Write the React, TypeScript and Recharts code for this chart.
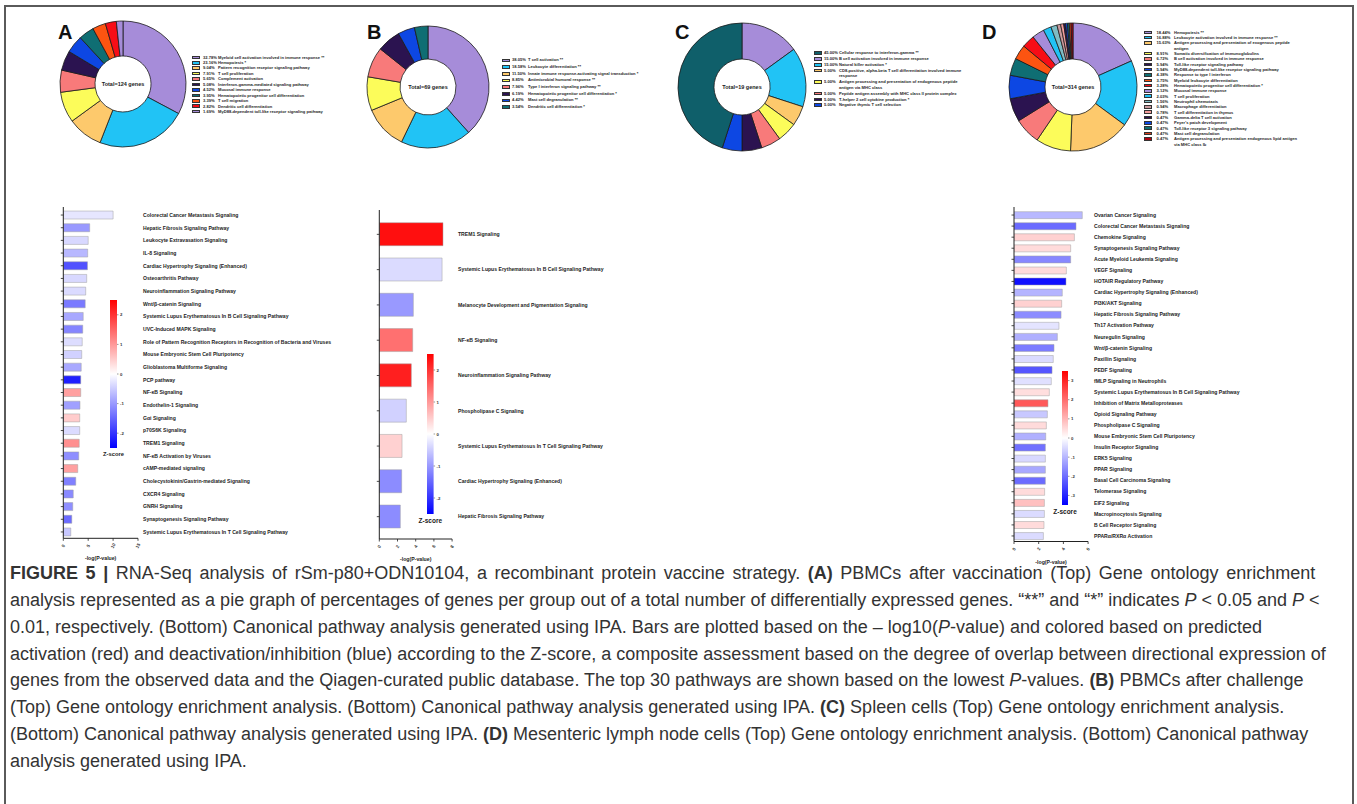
import React from "react";
import { PieChart, Pie, Cell, BarChart, Bar, XAxis, YAxis } from "recharts";

const FONT = '"Liberation Sans", Arial, Helvetica, sans-serif';

// ---------- gene ontology pies ----------
const pieALabels = [
  "Myeloid cell activation involved in immune response **",
  "Hemopoiesis *",
  "Pattern recognition receptor signaling pathway",
  "T cell proliferation",
  "Complement activation",
  "Interferon-gamma-mediated signaling pathway",
  "Mucosal immune response",
  "Hematopoietic progenitor cell differentiation",
  "T cell migration",
  "Dendritic cell differentiation",
  "MyD88-dependent toll-like receptor signaling pathway",
];
const pieAValues = [32.78, 23.16, 9.04, 7.91, 5.65, 5.08, 4.52, 3.95, 3.39, 2.82, 1.69];

const pieBLabels = [
  "T cell activation **",
  "Leukocyte differentiation **",
  "Innate immune response-activating signal transduction *",
  "Antimicrobial humoral response **",
  "Type I interferon signaling pathway **",
  "Hematopoietic progenitor cell differentiation *",
  "Mast cell degranulation **",
  "Dendritic cell differentiation *",
];
const pieBValues = [38.05, 18.58, 11.5, 8.85, 7.96, 6.19, 4.42, 3.54];

const pieCLabels = [
  "Cellular response to interferon-gamma **",
  "B cell activation involved in immune response",
  "Natural killer activation *",
  "CD8-positive, alpha-beta T cell differentiation involved immune\nresponse",
  "Antigen processing and presentation of endogenous peptide\nantigen via MHC class",
  "Peptide antigen assembly with MHC class II protein complex",
  "T-helper 2 cell cytokine production *",
  "Negative thymic T cell selection",
];
const pieCValues = [45.0, 15.0, 15.0, 5.0, 5.0, 5.0, 5.0, 5.0];
const pieCOrder = [1, 2, 3, 4, 5, 6, 7, 0];

const pieDLabels = [
  "Hemopoiesis **",
  "Leukocyte activation involved in immune response **",
  "Antigen processing and presentation of exogenous peptide\nantigen",
  "Somatic diversification of immunoglobulins",
  "B cell activation involved in immune response",
  "Toll-like receptor signaling pathway",
  "MyD88-dependent toll-like receptor signaling pathway",
  "Response to type I interferon",
  "Myeloid leukocyte differentiation",
  "Hematopoietic progenitor cell differentiation *",
  "Mucosal immune response",
  "T cell proliferation",
  "Neutrophil chemotaxis",
  "Macrophage differentiation",
  "T cell differentiation in thymus",
  "Gamma-delta T cell activation",
  "Peyer's patch development",
  "Toll-like receptor 3 signaling pathway",
  "Mast cell degranulation",
  "Antigen processing and presentation endogenous lipid antigen\nvia MHC class Ib",
];
const pieDValues = [
  18.44, 16.88, 15.63, 8.91, 6.72, 5.94, 5.94, 4.38, 3.75, 3.28, 3.12, 2.03, 1.56, 0.94, 0.78,
  0.47, 0.47, 0.47, 0.47, 0.47,
];

const LAV = "#a68cd9";
const SKY = "#21c3f5";
const LORANGE = "#fdc96c";
const YELLOW = "#fcfc5a";
const SALMON = "#f87a7a";
const NAVY = "#2b1350";
const BLUE = "#0d47e3";
const TEAL = "#0f6e73";
const ORANGE = "#fc5411";
const RED = "#f70d16";

const pieAColors = [LAV, SKY, LORANGE, YELLOW, SALMON, NAVY, BLUE, TEAL, ORANGE, RED, LAV];
const pieBColors = [LAV, SKY, LORANGE, YELLOW, SALMON, NAVY, BLUE, TEAL];
const pieCColors = ["#0f5f6a", LAV, SKY, LORANGE, YELLOW, SALMON, NAVY, BLUE];
const pieDColors = [
  LAV, SKY, LORANGE, YELLOW, SALMON, NAVY, BLUE, TEAL, ORANGE, RED,
  LAV, SKY, "#7fbcc4", "#c99a9e", "#f29c9c", NAVY, BLUE, TEAL, "#d8401a", "#b00010",
];

// ---------- canonical pathways (IPA) ----------
const barAPathways = [
  "Colorectal Cancer Metastasis Signaling",
  "Hepatic Fibrosis Signaling Pathway",
  "Leukocyte Extravasation Signaling",
  "IL-8 Signaling",
  "Cardiac Hypertrophy Signaling (Enhanced)",
  "Osteoarthritis Pathway",
  "Neuroinflammation Signaling Pathway",
  "Wnt/β-catenin Signaling",
  "Systemic Lupus Erythematosus In B Cell Signaling Pathway",
  "UVC-Induced MAPK Signaling",
  "Role of Pattern Recognition Receptors in Recognition of Bacteria and Viruses",
  "Mouse Embryonic Stem Cell Pluripotency",
  "Glioblastoma Multiforme Signaling",
  "PCP pathway",
  "NF-κB Signaling",
  "Endothelin-1 Signaling",
  "Gαi Signaling",
  "p70S6K Signaling",
  "TREM1 Signaling",
  "NF-κB Activation by Viruses",
  "cAMP-mediated signaling",
  "Cholecystokinin/Gastrin-mediated Signaling",
  "CXCR4 Signaling",
  "GNRH Signaling",
  "Synaptogenesis Signaling Pathway",
  "Systemic Lupus Erythematosus In T Cell Signaling Pathway",
];
const barALogP = [
  10.0, 5.3, 5.0, 4.9, 4.85, 4.7, 4.5, 4.4, 4.0, 3.9, 3.8, 3.7, 3.6, 3.5, 3.5, 3.35, 3.3, 3.3,
  3.2, 3.1, 2.9, 2.5, 2.0, 1.9, 1.7, 1.5,
];
const barAZ = [
  -0.25, -1.0, -0.38, -0.7, -1.7, -0.38, -0.35, -1.3, -0.85, -1.2, -0.33, -0.45, -0.85, -2.2,
  0.93, -0.93, 0.5, -0.35, 1.1, -1.1, 0.93, -1.25, -1.15, -1.1, -1.45, -0.55,
];

const barBPathways = [
  "TREM1 Signaling",
  "Systemic Lupus Erythematosus In B Cell Signaling Pathway",
  "Melanocyte Development and Pigmentation Signaling",
  "NF-κB Signaling",
  "Neuroinflammation Signaling Pathway",
  "Phospholipase C Signaling",
  "Systemic Lupus Erythematosus In T Cell Signaling Pathway",
  "Cardiac Hypertrophy Signaling (Enhanced)",
  "Hepatic Fibrosis Signaling Pathway",
];
const barBLogP = [7.0, 6.9, 3.74, 3.67, 3.52, 2.97, 2.5, 2.46, 2.31];
const barBZ = [2.35, -0.35, -1.0, 1.4, 2.2, -0.45, 0.45, -1.13, -1.13];

const barDPathways = [
  "Ovarian Cancer Signaling",
  "Colorectal Cancer Metastasis Signaling",
  "Chemokine Signaling",
  "Synaptogenesis Signaling Pathway",
  "Acute Myeloid Leukemia Signaling",
  "VEGF Signaling",
  "HOTAIR Regulatory Pathway",
  "Cardiac Hypertrophy Signaling (Enhanced)",
  "PI3K/AKT Signaling",
  "Hepatic Fibrosis Signaling Pathway",
  "Th17 Activation Pathway",
  "Neuregulin Signaling",
  "Wnt/β-catenin Signaling",
  "Paxillin Signaling",
  "PEDF Signaling",
  "fMLP Signaling in Neutrophils",
  "Systemic Lupus Erythematosus In B Cell Signaling Pathway",
  "Inhibition of Matrix Metalloproteases",
  "Opioid Signaling Pathway",
  "Phospholipase C Signaling",
  "Mouse Embryonic Stem Cell Pluripotency",
  "Insulin Receptor Signaling",
  "ERK5 Signaling",
  "PPAR Signaling",
  "Basal Cell Carcinoma Signaling",
  "Telomerase Signaling",
  "EIF2 Signaling",
  "Macropinocytosis Signaling",
  "B Cell Receptor Signaling",
  "PPARα/RXRα Activation",
];
const barDLogP = [
  5.53, 5.02, 4.89, 4.59, 4.59, 4.24, 4.21, 3.91, 3.86, 3.81, 3.64, 3.51, 3.24, 3.18, 3.08, 3.02,
  2.86, 2.75, 2.7, 2.62, 2.57, 2.54, 2.54, 2.54, 2.54, 2.48, 2.46, 2.46, 2.43, 2.38,
];
const barDZ = [
  -0.98, -2.03, 0.63, 0.49, -1.64, 0.49, -3.3, -1.03, 0.63, -1.58, -0.37, -1.08, -1.8, -0.49,
  -2.33, -0.43, 0.45, 2.28, -0.76, 0.49, -1.08, -1.96, -0.53, -1.2, -2.03, 0.49, 0.86, -0.49,
  0.49, -0.49,
];

const zColor = (z: number, max: number) => {
  const t = Math.min(Math.abs(z) / max, 1);
  const c = Math.round(255 * (1 - t));
  return z >= 0 ? `rgb(255,${c},${c})` : `rgb(${c},${c},255)`;
};

// ---------- pieces ----------
const Donut = ({ cx, cy, r, values, colors, order, total }: any) => {
  const idx = order || values.map((_: number, i: number) => i);
  const data = idx.map((i: number) => ({ name: String(i), value: values[i], color: colors[i] }));
  const size = Math.ceil(r * 2 + 6);
  return (
    <div style={{ position: "absolute", left: cx - size / 2, top: cy - size / 2, width: size, height: size }}>
      <PieChart width={size} height={size} margin={{ top: 0, right: 0, bottom: 0, left: 0 }}>
        <Pie
          data={data}
          dataKey="value"
          cx={size / 2}
          cy={size / 2}
          innerRadius={28}
          outerRadius={r}
          startAngle={90}
          endAngle={-270}
          stroke="#1a1a1a"
          strokeWidth={0.8}
          isAnimationActive={false}
        >
          {data.map((d: any, i: number) => (
            <Cell key={i} fill={d.color} />
          ))}
        </Pie>
      </PieChart>
      <div
        style={{
          position: "absolute",
          left: 0,
          width: size,
          top: size / 2 - 4,
          height: 8,
          lineHeight: "8px",
          textAlign: "center",
          fontFamily: FONT,
          fontSize: 5.5,
          fontWeight: 700,
          color: "#222",
        }}
      >
        Total={total} genes
      </div>
    </div>
  );
};

const PieLegend = ({ left, top, pitch, labels, values, colors, pctX, labelX }: any) => (
  <div
    style={{
      position: "absolute",
      left,
      top,
      fontFamily: FONT,
      fontSize: 4.1,
      fontWeight: 700,
      color: "#262626",
      lineHeight: `${pitch}px`,
    }}
  >
    {labels.map((l: string, i: number) => (
      <div key={i} style={{ position: "relative", height: pitch * (l.split("\n").length) }}>
        <div
          style={{
            position: "absolute",
            left: 0,
            top: pitch / 2 - 1.8,
            width: 8,
            height: 3.6,
            boxSizing: "border-box",
            border: "0.7px solid #333",
            background: colors[i],
          }}
        />
        <div style={{ position: "absolute", left: pctX, top: 0, whiteSpace: "nowrap" }}>
          {values[i].toFixed(2)}%
        </div>
        <div style={{ position: "absolute", left: labelX, top: 0, whiteSpace: "pre" }}>{l}</div>
      </div>
    ))}
  </div>
);

const ZBar = ({ id, x, top, bottom, w, zMax, ticks, fs }: any) => {
  const zero = (top + bottom) / 2;
  const k = (bottom - top) / (2 * zMax);
  return (
    <svg
      style={{ position: "absolute", left: x - 10, top: top - 5, overflow: "visible" }}
      width={40}
      height={bottom - top + 20}
    >
      <defs>
        <linearGradient id={id} x1="0" y1="0" x2="0" y2="1">
          <stop offset="0%" stopColor="#ff0000" />
          <stop offset="50%" stopColor="#ffffff" />
          <stop offset="100%" stopColor="#0000ff" />
        </linearGradient>
      </defs>
      <g transform="translate(10,5)">
        <rect x={0} y={0} width={w} height={bottom - top} fill={`url(#${id})`} />
        {ticks.map((t: number) => (
          <g key={t}>
            <line x1={w} x2={w + 1.5} y1={zero - top - t * k} y2={zero - top - t * k} stroke="#333" strokeWidth={0.5} />
            <text
              x={w + 3}
              y={zero - top - t * k}
              dy="0.35em"
              fontSize={4.3}
              fontWeight={700}
              fontFamily={FONT}
              fill="#333"
            >
              {t}
            </text>
          </g>
        ))}
        <text
          x={w / 2}
          y={bottom - top + 4}
          dy="0.7em"
          textAnchor="middle"
          fontSize={fs}
          fontWeight={700}
          fontFamily={FONT}
          fill="#222"
        >
          Z-score
        </text>
      </g>
    </svg>
  );
};

const RotTick = ({ x, y, payload }: any) => (
  <text
    x={x}
    y={y + 3}
    transform={`rotate(-60 ${x} ${y + 3})`}
    textAnchor="middle"
    dy="0.35em"
    fontSize={4.5}
    fontWeight={700}
    fontFamily={FONT}
    fill="#333"
  >
    {payload.value}
  </text>
);

const PathwayBars = ({ left, top, width, height, margin, names, logp, z, zMax, xMax, ticks, labelX, gap, pad }: any) => {
  const data = names.map((name: string, i: number) => ({ name, value: logp[i], z: z[i] }));
  const NameTick = (p: any) => (
    <text x={labelX} y={p.y} dy="0.35em" fontSize={5.1} fontWeight={700} fontFamily={FONT} fill="#222">
      {p.payload.value}
    </text>
  );
  return (
    <div style={{ position: "absolute", left, top, width, height }}>
      <BarChart width={width} height={height} data={data} layout="vertical" margin={margin} barCategoryGap={gap}>
        <XAxis
          type="number"
          domain={[0, xMax]}
          ticks={ticks}
          allowDataOverflow
          height={22}
          tickSize={2.5}
          axisLine={{ stroke: "#222", strokeWidth: 1 }}
          tickLine={{ stroke: "#222", strokeWidth: 0.8 }}
          tick={<RotTick />}
          label={{
            value: "-log(P-value)",
            position: "insideBottom",
            offset: 0,
            fontSize: 5.2,
            fontWeight: 700,
            fontFamily: FONT,
            fill: "#222",
          }}
        />
        <YAxis
          type="category"
          dataKey="name"
          width={8}
          interval={0}
          tickSize={2.5}
          padding={pad}
          axisLine={{ stroke: "#222", strokeWidth: 1 }}
          tickLine={{ stroke: "#222", strokeWidth: 0.8 }}
          tick={<NameTick />}
        />
        <Bar dataKey="value" stroke="#a0a0a0" strokeWidth={0.5} isAnimationActive={false}>
          {data.map((d: any, i: number) => (
            <Cell key={i} fill={zColor(d.z, zMax)} />
          ))}
        </Bar>
      </BarChart>
    </div>
  );
};

const Letter = ({ x, y, c }: any) => (
  <div
    style={{
      position: "absolute",
      left: x,
      top: y,
      fontFamily: FONT,
      fontSize: 20,
      fontWeight: 700,
      lineHeight: "20px",
      color: "#111",
    }}
  >
    {c}
  </div>
);

export default function App() {
  return (
    <div
      style={{
        position: "absolute",
        left: 0,
        top: 0,
        width: 1357,
        height: 804,
        overflow: "hidden",
        background: "#fff",
        fontFamily: FONT,
      }}
    >
      <div
        style={{
          position: "absolute",
          left: 4,
          top: 5,
          width: 1346,
          height: 900,
          border: "2px solid #5a5a5a",
        }}
      />

      <Letter x={58} y={22} c="A" />
      <Letter x={367} y={22} c="B" />
      <Letter x={675} y={22} c="C" />
      <Letter x={982} y={22} c="D" />

      <Donut cx={123} cy={84} r={63} values={pieAValues} colors={pieAColors} total={124} />
      <PieLegend left={192} top={54.6} pitch={5.44} labels={pieALabels} values={pieAValues} colors={pieAColors} pctX={11} labelX={26} />

      <Donut cx={428} cy={87} r={61} values={pieBValues} colors={pieBColors} total={69} />
      <PieLegend left={502} top={57.3} pitch={6.67} labels={pieBLabels} values={pieBValues} colors={pieBColors} pctX={10} labelX={26} />

      <Donut cx={742} cy={87} r={64} values={pieCValues} colors={pieCColors} order={pieCOrder} total={19} />
      <PieLegend left={814} top={50.4} pitch={5.78} labels={pieCLabels} values={pieCValues} colors={pieCColors} pctX={10} labelX={25} />

      <Donut cx={1073} cy={86.5} r={64} values={pieDValues} colors={pieDColors} total={314} />
      <PieLegend left={1144} top={29.7} pitch={5.33} labels={pieDLabels} values={pieDValues} colors={pieDColors} pctX={12.5} labelX={30} />

      <PathwayBars
        left={0}
        top={195}
        width={420}
        height={375}
        margin={{ top: 12, right: 282, bottom: 9.7, left: 55.3 }}
        names={barAPathways}
        logp={barALogP}
        z={barAZ}
        zMax={2.5}
        xMax={15}
        ticks={[0, 5, 10, 15]}
        labelX={143}
        gap="18.5%"
        pad={{ top: 1.7, bottom: 0 }}
      />
      <ZBar id="zA" x={110} top={300} bottom={448} w={7} zMax={2.5} ticks={[2, 1, 0, -1, -2]} fs={5.8} />

      <PathwayBars
        left={340}
        top={195}
        width={380}
        height={375}
        margin={{ top: 15, right: 267.9, bottom: 9, left: 31.3 }}
        names={barBPathways}
        logp={barBLogP}
        z={barBZ}
        zMax={2.5}
        xMax={8}
        ticks={[0, 2, 4, 6, 8]}
        labelX={118}
        gap="17%"
        pad={{ top: 6.7, bottom: 4.7 }}
      />
      <ZBar id="zB" x={427} top={354} bottom={514} w={6.6} zMax={2.5} ticks={[2, 1, 0, -1, -2]} fs={6.5} />

      <PathwayBars
        left={990}
        top={195}
        width={367}
        height={375}
        margin={{ top: 12, right: 268.9, bottom: 6.5, left: 16 }}
        names={barDPathways}
        logp={barDLogP}
        z={barDZ}
        zMax={3.5}
        xMax={6}
        ticks={[0, 2, 4, 6]}
        labelX={104}
        gap="19.5%"
        pad={{ top: 2.5, bottom: 0 }}
      />
      <ZBar id="zD" x={1062} top={371} bottom={505} w={6} zMax={3.5} ticks={[3, 2, 1, 0, -1, -2, -3]} fs={6.5} />

      <div
        style={{
          position: "absolute",
          left: 10,
          top: 560,
          fontSize: 18,
          lineHeight: "26.85px",
          color: "#333",
          whiteSpace: "nowrap",
        }}
      >
        <div style={{ wordSpacing: 2.6 }}>
          <b>FIGURE 5 |</b> RNA-Seq analysis of rSm-p80+ODN10104, a recombinant protein vaccine strategy. <b>(A)</b> PBMCs
          after vaccination (Top) Gene ontology enrichment
        </div>
        <div>
          analysis represented as a pie graph of percentages of genes per group out of a total number of differentially
          expressed genes. “**” and “*” indicates <i>P</i> &lt; 0.05 and <i>P</i> &lt;
        </div>
        <div>
          0.01, respectively. (Bottom) Canonical pathway analysis generated using IPA. Bars are plotted based on the –
          log10(<i>P</i>-value) and colored based on predicted
        </div>
        <div>
          activation (red) and deactivation/inhibition (blue) according to the Z-score, a composite assessment based on the
          degree of overlap between directional expression of
        </div>
        <div>
          genes from the observed data and the Qiagen-curated public database. The top 30 pathways are shown based on the
          lowest <i>P</i>-values. <b>(B)</b> PBMCs after challenge
        </div>
        <div>
          (Top) Gene ontology enrichment analysis. (Bottom) Canonical pathway analysis generated using IPA. <b>(C)</b> Spleen
          cells (Top) Gene ontology enrichment analysis.
        </div>
        <div>
          (Bottom) Canonical pathway analysis generated using IPA. <b>(D)</b> Mesenteric lymph node cells (Top) Gene
          ontology enrichment analysis. (Bottom) Canonical pathway
        </div>
        <div>analysis generated using IPA.</div>
      </div>
    </div>
  );
}
